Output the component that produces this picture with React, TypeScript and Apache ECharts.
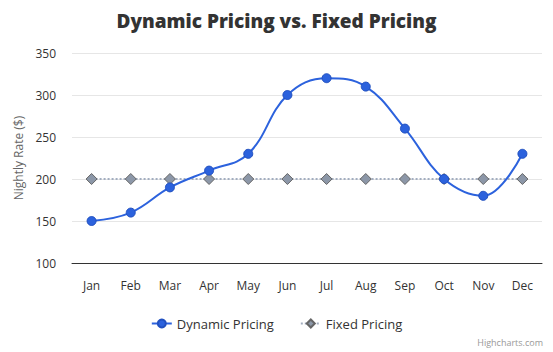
import React, { useEffect, useRef } from "react";
import * as echarts from "echarts";

const months = ["Jan", "Feb", "Mar", "Apr", "May", "Jun", "Jul", "Aug", "Sep", "Oct", "Nov", "Dec"];
const dynamicPricing = [150, 160, 190, 210, 230, 300, 320, 310, 260, 200, 180, 230];
const fixedPricing = [200, 200, 200, 200, 200, 200, 200, 200, 200, 200, 200, 200];

const FONT = "'Open Sans', 'Noto Sans', sans-serif";

export default function App() {
  const ref = useRef<HTMLDivElement>(null);
  useEffect(() => {
    document.body.style.margin = "0";
    if (!ref.current) return;
    const chart = echarts.init(ref.current, null, { renderer: "svg" });
    chart.setOption({
      animation: false,
      backgroundColor: "#ffffff",
      textStyle: { fontFamily: FONT },
      title: {
        text: "Dynamic Pricing vs. Fixed Pricing",
        left: "center",
        top: 6,
        textStyle: { fontFamily: FONT, fontSize: 19, fontWeight: 800, color: "#333333" },
      },
      legend: {
        bottom: 17,
        left: "center",
        itemGap: 26,
        itemWidth: 20,
        itemHeight: 10,
        textStyle: { fontFamily: FONT, fontSize: 13, color: "#333333" },
        data: ["Dynamic Pricing", "Fixed Pricing"],
      },
      graphic: [
        {
          type: "text",
          right: 10,
          bottom: 5,
          style: { text: "Highcharts.com", fontFamily: FONT, fontSize: 9, fill: "#999999" },
        },
      ],
      grid: { left: 72, right: 11, top: 53, bottom: 89 },
      xAxis: {
        type: "category",
        data: months,
        boundaryGap: true,
        axisLine: { lineStyle: { color: "#333333", width: 1 } },
        axisTick: { show: false },
        axisLabel: { color: "#333333", fontSize: 12, margin: 16, fontFamily: FONT },
      },
      yAxis: {
        type: "value",
        min: 100,
        max: 350,
        interval: 50,
        name: "Nightly Rate ($)",
        nameLocation: "middle",
        nameGap: 41,
        nameTextStyle: { color: "#666666", fontSize: 12, fontFamily: FONT },
        axisLine: { show: false },
        axisTick: { show: false },
        axisLabel: { color: "#333333", fontSize: 12, margin: 16, fontFamily: FONT },
        splitLine: { lineStyle: { color: "#e6e6e6", width: 1 } },
      },
      series: [
        {
          name: "Dynamic Pricing",
          type: "line",
          data: dynamicPricing,
          smooth: 0.4,
          symbol: "circle",
          symbolSize: 9,
          lineStyle: { color: "#2c62dd", width: 2 },
          itemStyle: { color: "#2c62dd", borderColor: "#2150c0", borderWidth: 1 },
          z: 3,
        },
        {
          name: "Fixed Pricing",
          type: "line",
          data: fixedPricing,
          symbol: "diamond",
          symbolSize: 11,
          lineStyle: { color: "#a3aec0", width: 2, type: [2, 2] },
          itemStyle: { color: "#8c97a8", borderColor: "#666666", borderWidth: 1 },
          z: 2,
        },
      ],
    });
    return () => chart.dispose();
  }, []);
  return <div ref={ref} style={{ width: 553, height: 352 }} />;
}
